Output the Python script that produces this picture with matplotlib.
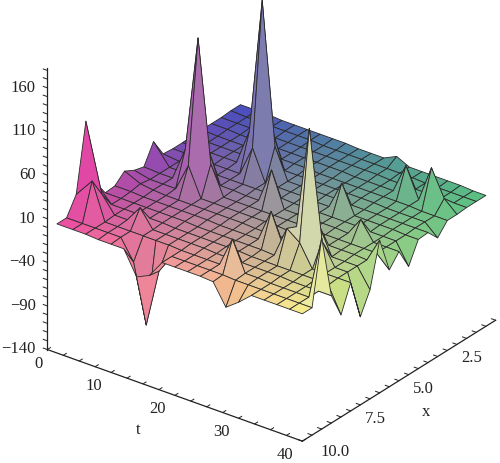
import numpy as np
import matplotlib
matplotlib.use('Agg')
import matplotlib.pyplot as plt
from mpl_toolkits.mplot3d import proj3d

plt.rcParams['font.family'] = ['Liberation Serif', 'DejaVu Serif']

t_values = [1.5, 4, 6, 8, 10, 12, 14, 16, 18, 20, 22, 24, 26, 28, 30, 32, 34, 36, 38, 40]
x_values = [0.5, 1.0, 1.5, 2.0, 2.5, 3.0, 3.5, 4.0, 4.5, 5.0, 5.5, 6.0, 6.5, 7.0, 7.5, 8.0, 8.5, 9.0, 9.5, 10.0]

# one row per t value, one column per x value
z_rows = [
    [13, 13, 12, 12, 12, 12, 11, 11, 12, 33, 11, 14, 20, 10, 9, 28, 105, 28, 8, 8],
    [13, 12, 12, 12, 11, 11, 11, 11, 10, 10, 10, 10, 12, 10, 9, 9, 28, 50, 8, 8],
    [13, 12, 12, 11, 11, 11, 11, 10, 10, 10, 10, 10, 10, 9, 9, 9, 9, 8, 8, 8],
    [12, 12, 12, 11, 11, 11, 11, 10, 10, 10, 48, 10, 9, 9, 9, 9, 9, 8, 8, 7],
    [12, 12, 11, 11, 11, 11, 11, 10, 10, 48, 181, 42, 9, 9, 9, 9, 28, 8, 8, 7],
    [12, 12, 11, 11, 11, 11, 52, 10, 10, 10, 42, 9, 9, 9, 9, 9, 8, 8, -15, 7],
    [12, 12, 11, 11, 11, 52, 207, 45, 10, 10, 9, 9, 9, 9, 9, 8, 8, 8, -82, -20],
    [12, 11, 11, 11, 11, 10, 45, 10, 10, 9, 9, 9, 9, 9, 8, 8, 8, 8, -15, -13],
    [12, 11, 11, 11, 11, 10, 10, 10, 10, 9, 9, 9, 9, 8, 8, 8, 8, 7, 7, 7],
    [11, 11, 11, 11, 10, 10, 10, 10, 10, 49, 9, 9, 9, 8, 8, 8, 8, 7, 7, 7],
    [11, 11, 11, 11, 10, 10, 10, 10, 9, 9, 9, 9, 8, 8, 8, 8, 7, 7, 7, 7],
    [11, 11, 11, 10, 10, 10, 10, 9, 9, 9, 9, 9, 8, 8, 8, 8, 7, 7, 7, 7],
    [18, 11, 11, 10, 10, 10, 10, 9, 9, 9, 9, 8, 8, 45, 8, 7, 7, 41, 7, 6],
    [11, 11, 10, 10, 10, 10, 9, 41, 9, 9, 9, 8, 8, 8, 7, 7, 7, 7, 6, -18],
    [11, 11, 10, 10, 10, 10, 9, 9, 9, 9, 8, 8, 8, 38, 43, 7, 7, 7, 6, -7],
    [11, 10, 10, 44, 10, 9, 9, 9, 9, 8, 8, 8, 38, 156, 32, 7, 7, 6, 6, 6],
    [11, 10, 10, 10, 10, 9, 9, 9, 8, 29, 8, 8, 7, 32, 7, 7, 6, 6, 6, 6],
    [11, 10, 10, 52, 9, 9, 9, 9, 8, 8, 8, 8, 7, 7, 7, 7, 6, 6, 6, 6],
    [10, 10, 10, 22, 9, 9, 9, 8, 8, 8, 8, 7, 7, 7, 7, 6, 6, 6, 6, 6],
    [10, 10, 10, 9, 9, -4, 9, 8, -16, 8, -6, 35, -15, -39, 7, -23, 6, 79, 6, 6],
]

t_ticks = [0, 10, 20, 30, 40]
x_ticks = [2.5, 5.0, 7.5, 10.0]
z_ticks = [-140, -90, -40, 10, 60, 110, 160]

# corner colours of the surface
col_back = np.array([82, 84, 175]) / 255
col_left = np.array([240, 78, 160]) / 255
col_right = np.array([90, 192, 130]) / 255
col_front = np.array([250, 240, 135]) / 255

T, X = np.meshgrid(t_values, x_values, indexing='ij')
Z = np.array(z_rows, dtype=float)

# colour by position on the t,x plane
a = ((T[:-1, :-1] + T[1:, 1:]) / 2 - 2) / 38
b = (((X[:-1, :-1] + X[1:, 1:]) / 2 - 0.5) / 9.5) ** 1.3
colors = np.zeros(a.shape + (4,))
for i in range(3):
    colors[:, :, i] = (col_back[i] * (1 - a) * (1 - b) + col_left[i] * (1 - a) * b
                       + col_right[i] * a * (1 - b) + col_front[i] * a * b)
colors[:, :, 3] = 1

# tall faces come out stronger, the ones near the front go pale
zmid = (Z[:-1, :-1] + Z[1:, :-1] + Z[:-1, 1:] + Z[1:, 1:]) / 4
tall = np.clip(zmid / 60, 0, 1)[:, :, None]
aa = a[:, :, None]
bb = b[:, :, None]
grey = colors[:, :, :3].mean(axis=2, keepdims=True)
rgb = colors[:, :, :3] + (colors[:, :, :3] - grey) * 1.2 * tall * (1 - aa) * (1 - bb)
rgb = rgb + (1 - rgb) * 0.6 * tall * aa * bb
colors[:, :, :3] = np.clip(rgb, 0, 1)

fig = plt.figure(figsize=(5, 4.63), dpi=100)
ax = fig.add_axes([-4.8 / 500, -7.3 / 463, 538 / 500, 538 / 463], projection='3d', proj_type='ortho')
ax.view_init(elev=28.3, azim=-52.85)
ax.set_box_aspect((1, 1, 1))

surf = ax.plot_surface(T, X, Z, facecolors=colors, rstride=1, cstride=1, shade=False)
surf.set_edgecolor('#2a2a2a')
surf.set_linewidth(0.6)

ax.set_xlim(0, 40, view_margin=0)
ax.set_ylim(10, 0, view_margin=0)
ax.set_zlim(-140, 183, view_margin=0)

ax.xaxis.pane.set_visible(False)
ax.yaxis.pane.set_visible(False)
ax.zaxis.pane.set_visible(False)
ax.grid(False)

# every small tick is a blank tick, 3d axes have no minor ticks
ax.set_xticks(np.arange(0, 40.1, 2.5))
ax.set_yticks(np.arange(0, 10.01, 0.5))
ax.set_zticks(np.arange(-140, 181, 10))
ax.zaxis.set_ticks_position('upper')

for axis in (ax.xaxis, ax.yaxis, ax.zaxis):
    axis.line.set_color('#222222')
    axis.line.set_linewidth(0.9)
    axis.set_tick_params(colors='#222222')
    axis._axinfo['tick']['inward_factor'] = 0
    axis._axinfo['tick']['outward_factor'] = 0.2
    axis._axinfo['tick']['linewidth'] = {True: 0.7, False: 0.7}
    for tick in axis.get_major_ticks():
        tick.label1.set_visible(False)


# labels placed by hand so they sit where the original has them
def put_label(t, x, z, s, ha='center'):
    px, py, _ = proj3d.proj_transform(t, x, z, ax.get_proj())
    ax.text2D(px, py, s, transform=ax.transData, fontsize=12, color='#222222', ha=ha, va='center')


for v in t_ticks:
    put_label(v, 10.45 if v == 0 else 10.9, -150 if v == 0 else -143, str(v))
for v in x_ticks:
    put_label(45.2 if v == 10.0 else 43.8, v, -139, str(v))
for v in z_ticks:
    put_label(-1.19, 10.22, v, str(v).replace('-', '\u2212'), ha='right')

put_label(21.9, 12.52, -140, 't')
put_label(47.8, 6.15, -140, 'x')

fig.savefig('out.png', dpi=100)
